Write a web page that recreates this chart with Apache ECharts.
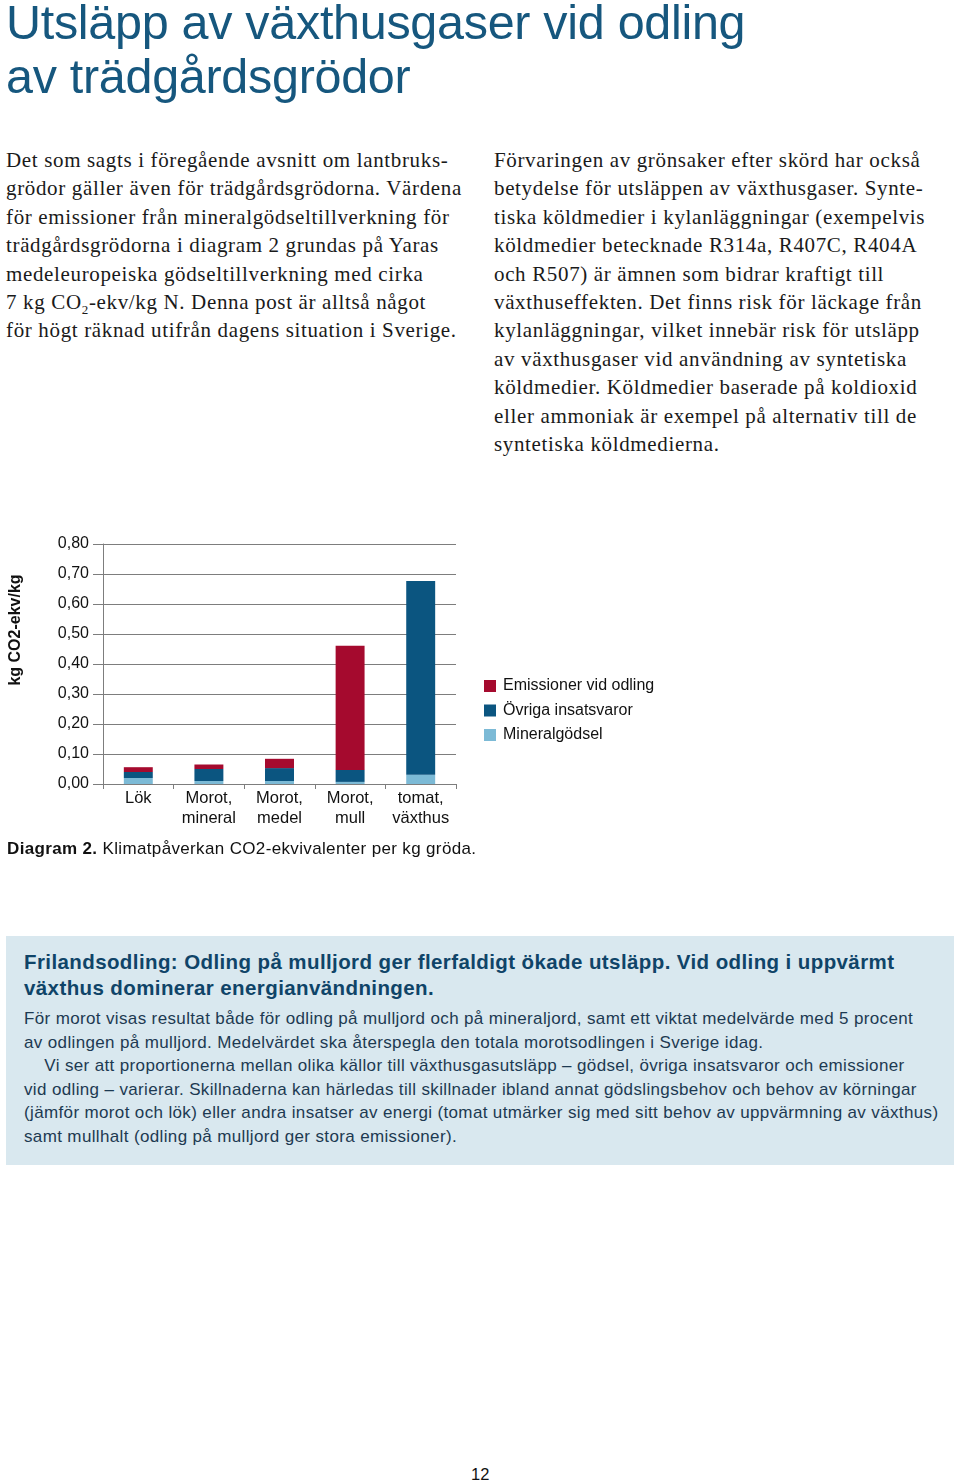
<!DOCTYPE html>
<html><head><meta charset="utf-8">
<script src="https://cdn.jsdelivr.net/npm/echarts@6/dist/echarts.min.js"></script>
<style>
html,body{margin:0;padding:0;background:#fff;}
body{width:960px;height:1481px;position:relative;overflow:hidden;}
.t{position:absolute;white-space:pre;}
.title{font-family:"Liberation Sans",Arial,sans-serif;font-size:48.5px;line-height:54px;color:#16577e;left:6px;letter-spacing:-0.3px;}
.serif{font-family:"Liberation Serif","Times New Roman",serif;font-size:21px;line-height:28.4px;color:#1a1a1a;letter-spacing:0.65px;}
.box{position:absolute;left:6px;top:936px;width:948px;height:229px;background:#d9e8ef;}
.bh{font-family:"Liberation Sans",Arial,sans-serif;font-weight:bold;font-size:20.5px;line-height:25.5px;color:#0f4468;left:24px;letter-spacing:0.4px;}
.bb{font-family:"Liberation Sans",Arial,sans-serif;font-size:17px;line-height:23.6px;color:#1d3a52;left:24px;letter-spacing:0.36px;}
.cap{font-family:"Liberation Sans",Arial,sans-serif;font-size:17px;line-height:20px;color:#111;left:7px;top:839px;letter-spacing:0.35px;}
#chart{position:absolute;left:0;top:520px;width:960px;height:320px;}
.pg{font-family:"Liberation Sans",Arial,sans-serif;font-size:16.5px;color:#111;left:471px;top:1465px;}
</style></head>
<body>
<div class="t title" style="top:-5px">Utsläpp av växthusgaser vid odling
av trädgårdsgrödor</div>

<div class="t serif" style="left:6px;top:146px">Det som sagts i föregående avsnitt om lantbruks-
grödor gäller även för trädgårdsgrödorna. Värdena
för emissioner från mineralgödseltillverkning för
trädgårdsgrödorna i diagram 2 grundas på Yaras
medeleuropeiska gödseltillverkning med cirka
7 kg CO<sub style="font-size:13px;line-height:0">2</sub>-ekv/kg N. Denna post är alltså något
för högt räknad utifrån dagens situation i Sverige.</div>

<div class="t serif" style="left:494px;top:146px">Förvaringen av grönsaker efter skörd har också
betydelse för utsläppen av växthusgaser. Synte-
tiska köldmedier i kylanläggningar (exempelvis
köldmedier betecknade R314a, R407C, R404A
och R507) är ämnen som bidrar kraftigt till
växthuseffekten. Det finns risk för läckage från
kylanläggningar, vilket innebär risk för utsläpp
av växthusgaser vid användning av syntetiska
köldmedier. Köldmedier baserade på koldioxid
eller ammoniak är exempel på alternativ till de
syntetiska köldmedierna.</div>

<div id="chart"></div>

<div class="t cap"><b>Diagram 2.</b> Klimatpåverkan CO2-ekvivalenter per kg gröda.</div>

<div class="box"></div>
<div class="t bh" style="top:949px">Frilandsodling: Odling på mulljord ger flerfaldigt ökade utsläpp. Vid odling i uppvärmt
växthus dominerar energianvändningen.</div>
<div class="t bb" style="top:1007px">För morot visas resultat både för odling på mulljord och på mineraljord, samt ett viktat medelvärde med 5 procent
av odlingen på mulljord. Medelvärdet ska återspegla den totala morotsodlingen i Sverige idag.
    Vi ser att proportionerna mellan olika källor till växthusgasutsläpp – gödsel, övriga insatsvaror och emissioner
vid odling – varierar. Skillnaderna kan härledas till skillnader ibland annat gödslingsbehov och behov av körningar
(jämför morot och lök) eller andra insatser av energi (tomat utmärker sig med sitt behov av uppvärmning av växthus)
samt mullhalt (odling på mulljord ger stora emissioner).</div>

<div class="t pg">12</div>

<script>
// ---- data ----
const categories = ['Lök', 'Morot,\nmineral', 'Morot,\nmedel', 'Morot,\nmull', 'tomat,\nväxthus'];
const mineralgodsel = [0.020, 0.010, 0.010, 0.007, 0.031];
const ovrigaInsatsvaror = [0.020, 0.040, 0.043, 0.040, 0.646];
const emissionerVidOdling = [0.016, 0.015, 0.031, 0.414, 0.000];
const seriesNames = ['Emissioner vid odling', 'Övriga insatsvaror', 'Mineralgödsel'];
const yAxisTitle = 'kg CO2-ekv/kg';

const FONT = '"Liberation Sans", Arial, sans-serif';
const chart = echarts.init(document.getElementById('chart'), null, {renderer: 'canvas'});
chart.setOption({
  animation: false,
  textStyle: {fontFamily: FONT},
  grid: {left: 103, top: 24, width: 353, height: 240, containLabel: false},
  legend: {
    orient: 'vertical', left: 484, top: 158, padding: 0,
    data: seriesNames,
    icon: 'rect', itemWidth: 12, itemHeight: 12, itemGap: 8.5,
    textStyle: {fontFamily: FONT, fontSize: 16, color: '#111', padding: [0, 0, 0, 2]},
    selectedMode: false
  },
  xAxis: {
    type: 'category', data: categories,
    axisLine: {lineStyle: {color: '#7d7d7d', width: 1}},
    axisTick: {show: true, alignWithLabel: false, length: 5, lineStyle: {color: '#7d7d7d'}},
    axisLabel: {fontFamily: FONT, fontSize: 16.5, color: '#111', lineHeight: 20, margin: 4, interval: 0}
  },
  yAxis: {
    type: 'value', min: 0, max: 0.8, interval: 0.1,
    axisLine: {show: true, lineStyle: {color: '#7d7d7d', width: 1}},
    axisTick: {show: true, length: 10, lineStyle: {color: '#7d7d7d'}},
    splitLine: {show: true, lineStyle: {color: '#7d7d7d', width: 1}},
    axisLabel: {fontFamily: FONT, fontSize: 16, color: '#111', margin: 14,
      formatter: v => v.toFixed(2).replace('.', ',')}
  },
  graphic: [{
    type: 'text', x: 16, y: 110, rotation: Math.PI / 2,
    style: {text: yAxisTitle, fontFamily: FONT, fontWeight: 'bold', fontSize: 16, fill: '#111',
      align: 'center', verticalAlign: 'middle'}
  }],
  series: [
    {name: 'Mineralgödsel', type: 'bar', stack: 's', data: mineralgodsel, barWidth: '41%',
      itemStyle: {color: '#7cbad6'}},
    {name: 'Övriga insatsvaror', type: 'bar', stack: 's', data: ovrigaInsatsvaror, barWidth: '41%',
      itemStyle: {color: '#0b5580'}},
    {name: 'Emissioner vid odling', type: 'bar', stack: 's', data: emissionerVidOdling, barWidth: '41%',
      itemStyle: {color: '#a50a2e'}}
  ]
});
</script>
</body></html>
